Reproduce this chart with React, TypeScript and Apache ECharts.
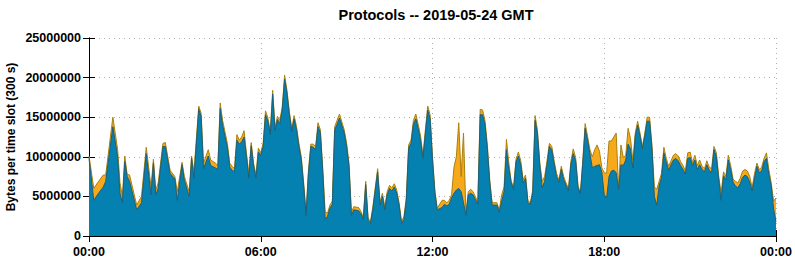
import React, { useEffect, useRef } from "react";
import * as echarts from "echarts";

// minutes of the day (5-minute slots, 300 s)
const slotMinutes = [
  0, 10, 20, 30, 35, 50, 60, 65, 70, 75, 80, 85, 100, 110, 120, 130, 135, 140, 145, 155,
  160, 170, 180, 185, 195, 200, 210, 215, 220, 230, 235, 240, 250, 255, 265, 270, 275, 280, 290, 295,
  300, 305, 310, 315, 320, 325, 330, 335, 340, 345, 350, 355, 360, 365, 370, 375, 380, 385, 390, 395,
  400, 405, 410, 415, 420, 425, 430, 435, 440, 445, 450, 455, 460, 465, 470, 475, 480, 485, 490, 495,
  500, 505, 510, 515, 520, 525, 535, 540, 545, 550, 555, 565, 570, 575, 580, 585, 590, 595, 605, 610,
  615, 620, 625, 630, 635, 640, 645, 650, 655, 660, 665, 670, 675, 680, 685, 690, 695, 700, 705, 710,
  715, 720, 725, 730, 740, 745, 750, 755, 760, 765, 770, 775, 780, 785, 790, 795, 800, 805, 815, 820,
  825, 830, 835, 840, 845, 855, 860, 865, 870, 875, 880, 885, 890, 895, 900, 905, 910, 915, 920, 925,
  930, 935, 940, 945, 950, 955, 960, 965, 970, 975, 980, 985, 990, 995, 1000, 1005, 1010, 1015, 1020, 1025,
  1030, 1035, 1040, 1045, 1050, 1055, 1060, 1065, 1070, 1075, 1080, 1085, 1090, 1095, 1100, 1105, 1110, 1115, 1120, 1125,
  1130, 1135, 1140, 1145, 1150, 1155, 1160, 1165, 1170, 1175, 1180, 1185, 1190, 1195, 1200, 1205, 1210, 1215, 1220, 1225,
  1230, 1235, 1240, 1245, 1250, 1255, 1260, 1265, 1270, 1275, 1280, 1285, 1290, 1295, 1300, 1305, 1310, 1315, 1320, 1325,
  1330, 1335, 1340, 1345, 1350, 1355, 1360, 1365, 1370, 1375, 1380, 1385, 1390, 1395, 1400, 1405, 1410, 1415, 1420, 1425,
  1430, 1435, 1440,
];

// stacked total (top of the orange band), millions of bytes
const totalMB = [
  10.1, 6.0, 6.9, 7.7, 7.7, 15.0, 10.9, 6.7, 5.0, 10.1, 7.8, 7.7, 3.9, 5.0, 11.2, 6.2, 9.7, 5.8, 6.7, 11.7,
  11.8, 8.3, 7.5, 5.6, 9.3, 7.5, 5.6, 10.1, 8.1, 16.4, 15.5, 9.2, 10.9, 9.6, 9.2, 8.9, 16.8, 14.6, 11.7, 9.2,
  8.8, 8.5, 12.8, 12.1, 12.5, 13.3, 10.5, 7.9, 11.8, 9.2, 7.7, 11.1, 10.5, 11.7, 15.8, 14.9, 13.2, 18.4, 13.7, 15.1,
  14.6, 16.3, 20.3, 18.4, 15.7, 13.6, 15.2, 13.8, 11.7, 10.0, 6.7, 2.9, 8.3, 11.6, 11.6, 11.3, 14.3, 13.4, 8.5, 3.0,
  2.9, 3.9, 4.4, 13.8, 14.6, 15.4, 13.4, 11.7, 9.2, 3.0, 3.7, 3.6, 3.1, 2.4, 6.9, 2.3, 1.8, 3.7, 8.5, 4.3,
  5.4, 3.7, 5.6, 6.4, 6.1, 6.6, 5.8, 4.2, 1.9, 2.4, 4.8, 11.5, 12.1, 14.6, 15.4, 14.1, 12.6, 10.2, 13.4, 16.4,
  15.3, 10.0, 5.8, 3.5, 4.5, 4.5, 4.2, 4.5, 5.2, 8.7, 10.0, 14.3, 7.5, 13.0, 2.9, 5.6, 5.9, 5.6, 4.3, 16.0,
  15.9, 14.6, 11.5, 7.1, 4.2, 4.2, 3.3, 5.2, 6.2, 12.2, 9.2, 6.9, 6.2, 9.7, 10.6, 9.5, 7.1, 7.7, 4.5, 4.2,
  5.8, 15.2, 13.4, 9.2, 6.9, 7.5, 9.5, 11.7, 11.3, 9.5, 7.9, 7.1, 8.8, 7.5, 6.7, 6.0, 9.4, 11.0, 9.9, 6.4,
  5.4, 9.6, 14.2, 12.6, 10.9, 10.0, 10.9, 11.5, 10.7, 8.6, 8.0, 7.9, 12.0, 12.0, 12.5, 13.0, 6.1, 11.5, 9.9, 10.2,
  13.6, 12.3, 9.5, 13.0, 14.5, 13.0, 11.3, 13.0, 15.0, 15.0, 11.5, 6.2, 5.9, 6.9, 7.9, 11.2, 9.8, 8.8, 9.5, 10.2,
  10.4, 10.1, 9.4, 8.9, 8.2, 10.5, 10.6, 9.3, 10.2, 8.9, 9.6, 8.8, 8.5, 9.5, 8.7, 8.5, 11.3, 10.5, 7.5, 5.4,
  8.1, 7.5, 10.2, 8.9, 7.2, 6.9, 6.7, 7.3, 8.2, 8.4, 8.2, 7.5, 6.1, 7.9, 9.2, 8.4, 8.7, 9.8, 10.5, 8.4,
  6.7, 4.4, 4.8,
];

// lower (blue) protocol, millions of bytes
const blueMB = [
  9.8, 4.5, 5.4, 6.2, 6.9, 13.8, 10.0, 5.4, 4.2, 9.4, 7.5, 6.9, 3.3, 4.2, 10.4, 5.2, 9.2, 5.2, 6.0, 11.3,
  11.3, 7.9, 7.2, 4.5, 9.0, 7.0, 5.0, 9.8, 7.3, 16.0, 15.1, 8.5, 10.1, 8.9, 8.6, 8.4, 16.1, 14.0, 11.2, 8.7,
  8.3, 8.1, 12.1, 11.6, 11.9, 12.5, 10.0, 7.3, 11.4, 8.8, 7.3, 10.6, 10.2, 11.3, 15.3, 14.5, 12.8, 17.9, 13.3, 14.7,
  14.2, 15.9, 19.8, 18.0, 15.3, 13.2, 14.8, 13.4, 11.3, 9.6, 6.3, 2.6, 7.9, 11.3, 11.2, 10.9, 13.8, 13.0, 8.1, 2.1,
  2.5, 3.5, 4.0, 13.4, 14.1, 14.9, 13.0, 11.3, 8.8, 2.6, 3.3, 3.2, 2.8, 2.1, 6.5, 2.0, 1.6, 3.4, 8.1, 3.9,
  5.0, 3.3, 5.2, 6.0, 5.7, 6.2, 5.4, 3.9, 1.6, 2.1, 4.4, 11.1, 11.7, 14.1, 14.8, 13.6, 12.1, 9.8, 12.9, 15.9,
  14.8, 9.6, 5.4, 3.3, 3.6, 4.0, 3.8, 4.0, 4.8, 5.4, 5.8, 6.0, 5.6, 4.2, 2.6, 5.2, 5.4, 5.2, 4.0, 15.3,
  15.3, 14.1, 11.0, 6.7, 3.9, 3.9, 3.0, 4.4, 5.6, 10.9, 8.5, 6.7, 5.9, 9.3, 10.1, 9.0, 6.7, 7.3, 4.2, 4.0,
  5.4, 14.6, 12.9, 8.8, 6.1, 6.9, 9.0, 11.3, 10.9, 9.1, 7.5, 6.8, 8.4, 7.1, 6.4, 5.7, 9.0, 10.4, 9.5, 6.1,
  5.3, 9.2, 13.6, 12.1, 10.4, 8.6, 8.8, 8.9, 9.0, 8.0, 5.2, 4.8, 7.5, 8.2, 8.3, 8.0, 5.9, 9.0, 8.9, 9.6,
  11.6, 11.0, 8.6, 12.6, 14.0, 12.6, 11.0, 12.6, 14.5, 14.5, 11.0, 5.0, 3.9, 6.3, 7.4, 10.5, 9.3, 8.3, 9.0, 9.6,
  9.8, 9.5, 8.9, 8.4, 7.8, 9.8, 9.9, 8.9, 9.6, 8.4, 9.0, 8.4, 8.1, 9.0, 8.3, 8.0, 10.9, 10.0, 7.1, 4.5,
  7.6, 7.1, 9.6, 8.4, 6.8, 6.3, 6.1, 6.6, 7.4, 7.7, 7.5, 6.8, 5.7, 7.3, 8.8, 8.0, 8.2, 9.4, 9.8, 7.8,
  6.3, 3.4, 1.8,
];

const yTicks = [0, 5000000, 10000000, 15000000, 20000000, 25000000];
const xTickMinutes = [0, 360, 720, 1080, 1440];

const TITLE = "Protocols -- 2019-05-24 GMT";
const Y_NAME = "Bytes per time slot (300 s)";

const BLUE_FILL = "#0581b1";
const BLUE_LINE = "#1b5f7c";
const ORANGE_FILL = "#f7a91b";
const ORANGE_LINE = "#a8800f";
const FONT = "Liberation Sans, Arial, sans-serif";

function fmtTime(v: number): string {
  const m = Math.round(v) % 1440;
  const h = Math.floor(m / 60);
  const mm = m % 60;
  return String(h).padStart(2, "0") + ":" + String(mm).padStart(2, "0");
}

export default function App() {
  const ref = useRef<HTMLDivElement>(null);

  useEffect(() => {
    if (!ref.current) return;
    const chart = echarts.init(ref.current, undefined, { renderer: "svg" });
    const blueData = slotMinutes.map((t, i) => [t, Math.round(blueMB[i] * 1e6)]);
    // top of the stack (blue + orange), drawn behind the blue area
    const totalData = slotMinutes.map((t, i) => [t, Math.round(totalMB[i] * 1e6)]);
    const axisLabelStyle = {
      color: "#000",
      fontFamily: FONT,
      fontWeight: "bold" as const,
      fontSize: 12.5,
    };
    chart.setOption({
      animation: false,
      backgroundColor: "#fff",
      title: {
        text: TITLE,
        left: 431,
        top: 2,
        textAlign: "center",
        textStyle: { fontFamily: FONT, fontWeight: "bold", fontSize: 14.5, color: "#000" },
      },
      grid: {
        left: 89,
        top: 38,
        width: 687,
        height: 198,
        containLabel: false,
        outerBoundsMode: "none",
      },
      xAxis: [
        {
          type: "value",
          min: xTickMinutes[0],
          max: xTickMinutes[xTickMinutes.length - 1],
          interval: 360,
          axisLine: { show: true, lineStyle: { color: "#000", width: 1 } },
          axisTick: { show: true, inside: true, length: 6, lineStyle: { color: "#000" } },
          axisLabel: { ...axisLabelStyle, margin: 9, formatter: (v: number) => fmtTime(v) },
          splitLine: { show: true, lineStyle: { color: "#b0b0b0", type: [1, 4], width: 1 } },
        },
        {
          type: "value",
          position: "top",
          min: xTickMinutes[0],
          max: xTickMinutes[xTickMinutes.length - 1],
          interval: 360,
          axisLine: { show: true, lineStyle: { color: "#000", width: 1 } },
          axisTick: { show: true, inside: true, length: 6, lineStyle: { color: "#000" } },
          axisLabel: { show: false },
          splitLine: { show: false },
        },
      ],
      yAxis: [
        {
          type: "value",
          min: yTicks[0],
          max: yTicks[yTicks.length - 1],
          interval: 5000000,
          name: Y_NAME,
          nameLocation: "middle",
          nameRotate: 90,
          nameGap: 72,
          nameMoveOverlap: false,
          nameTextStyle: { fontFamily: FONT, fontWeight: "bold", fontSize: 12, color: "#000" },
          axisLine: { show: true, lineStyle: { color: "#000", width: 1 } },
          axisTick: { show: true, inside: true, length: 6, lineStyle: { color: "#000" } },
          axisLabel: { ...axisLabelStyle, margin: 8, formatter: (v: number) => String(v) },
          splitLine: { show: true, lineStyle: { color: "#b0b0b0", type: [1, 4], width: 1 } },
        },
        {
          type: "value",
          position: "right",
          min: yTicks[0],
          max: yTicks[yTicks.length - 1],
          interval: 5000000,
          axisLine: { show: true, lineStyle: { color: "#000", width: 1 } },
          axisTick: { show: true, inside: true, length: 6, lineStyle: { color: "#000" } },
          axisLabel: { show: false },
          splitLine: { show: false },
        },
      ],
      series: [
        {
          name: "total",
          type: "line",
          data: totalData,
          showSymbol: false,
          z: 2,
          lineStyle: { color: ORANGE_LINE, width: 1 },
          itemStyle: { color: ORANGE_FILL },
          areaStyle: { color: ORANGE_FILL, opacity: 1 },
        },
        {
          name: "tcp",
          type: "line",
          data: blueData,
          showSymbol: false,
          z: 3,
          lineStyle: { color: BLUE_LINE, width: 1 },
          itemStyle: { color: BLUE_FILL },
          areaStyle: { color: BLUE_FILL, opacity: 1 },
        },
      ],
    });
    return () => chart.dispose();
  }, []);

  return (
    <div
      ref={ref}
      style={{ position: "fixed", left: 0, top: 0, width: 795, height: 260, background: "#fff" }}
    />
  );
}
